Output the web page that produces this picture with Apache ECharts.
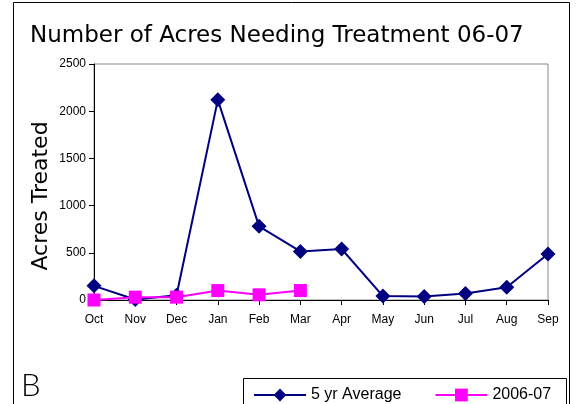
<!DOCTYPE html>
<html><head><meta charset="utf-8">
<script src="https://cdn.jsdelivr.net/npm/echarts@6/dist/echarts.min.js"></script>
<style>html,body{margin:0;padding:0;background:#fff}#c{width:577px;height:404px}</style>
</head><body><div id="c"></div>
<script>
const categories = ['Oct','Nov','Dec','Jan','Feb','Mar','Apr','May','Jun','Jul','Aug','Sep'];
const avg5yr = [150, 5, 50, 2120, 780, 515, 540, 42, 38, 68, 135, 488];
const season0607 = [0, 30, 30, 100, 55, 100];
const yTicks = [0, 500, 1000, 1500, 2000, 2500];

const chart = echarts.init(document.getElementById('c'), null, {renderer:'canvas'});
chart.setOption({
  animation:false,
  backgroundColor:'#fff',
  title:{text:'Number of Acres Needing Treatment 06-07', left:25, top:20,
    textStyle:{fontFamily:'DejaVu Sans', fontSize:23, fontWeight:'normal', color:'#000'}},
  grid:{left:94, right:29, top:64, bottom:104, show:true, borderColor:'#888', borderWidth:1},
  legend:{left:248, top:382, itemWidth:52, itemHeight:16, itemGap:33,
    textStyle:{fontFamily:'Liberation Sans', fontSize:16, color:'#000'},
    data:['5 yr Average','2006-07']},
  xAxis:{type:'category', data:categories, boundaryGap:false,
    axisLine:{lineStyle:{color:'#000'}}, axisTick:{show:true, length:5, alignWithLabel:true, lineStyle:{color:'#000'}},
    axisLabel:{fontFamily:'Liberation Sans', fontSize:12, color:'#000', margin:14, interval:0}},
  yAxis:{type:'value', min:yTicks[0], max:yTicks[yTicks.length-1], interval:500,
    axisLine:{show:true, lineStyle:{color:'#000'}}, axisTick:{show:true, length:5, lineStyle:{color:'#000'}},
    splitLine:{show:false},
    axisLabel:{fontFamily:'Liberation Sans', fontSize:12, color:'#000', margin:8, formatter:v=>String(v)}},
  series:[
    {name:'5 yr Average', type:'line', data:avg5yr, symbol:'diamond', symbolSize:15,
      lineStyle:{color:'#000080', width:2}, itemStyle:{color:'#000080'}},
    {name:'2006-07', type:'line', data:season0607, symbol:'rect', symbolSize:13,
      lineStyle:{color:'#ff00ff', width:2}, itemStyle:{color:'#ff00ff'}}
  ],
  graphic:[
    {type:'rect', shape:{x:13.5, y:2.5, width:556, height:420}, style:{fill:null, stroke:'#000', lineWidth:1}, silent:true},
    {type:'rect', shape:{x:243.5, y:378.5, width:323, height:40}, style:{fill:null, stroke:'#000', lineWidth:1}, silent:true},
    {type:'text', x:41, y:196, rotation:Math.PI/2, style:{text:'Acres Treated', fontFamily:'DejaVu Sans', fontSize:22, fill:'#000', align:'center', verticalAlign:'middle'}},
    {type:'text', left:21, top:370, style:{text:'B', fontFamily:'Lato', fontSize:31, fontWeight:300, fill:'#000'}}
  ]
});
</script></body></html>
